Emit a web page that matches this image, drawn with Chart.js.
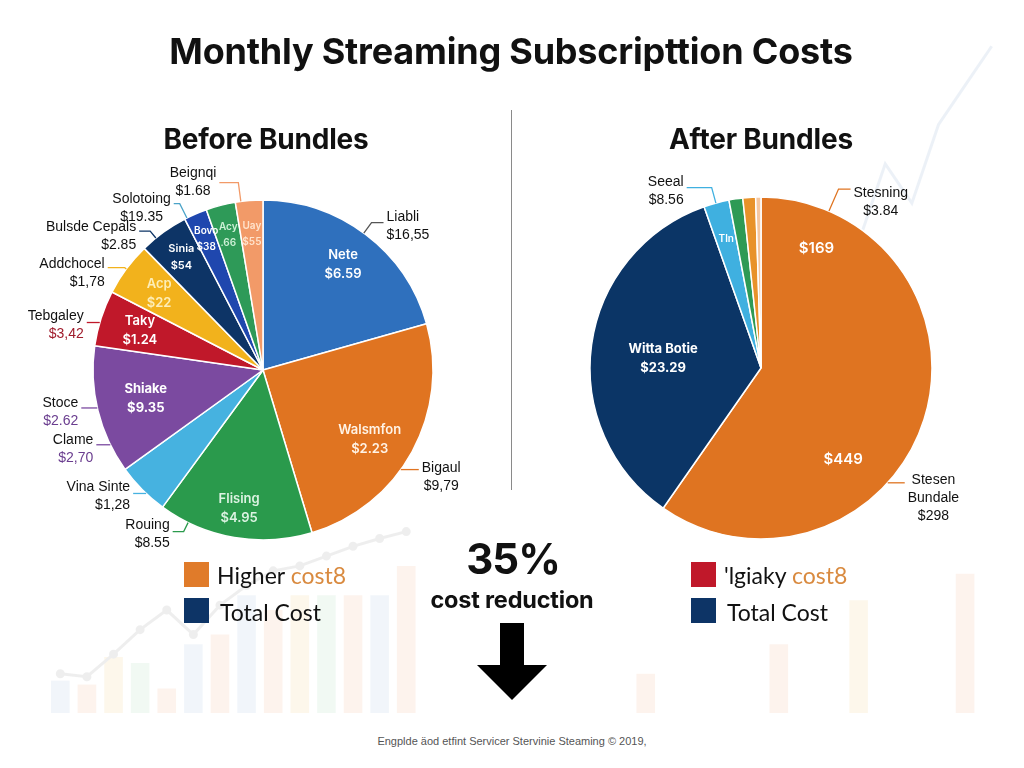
<!DOCTYPE html>
<html>
<head>
<meta charset="utf-8">
<script src="https://cdn.jsdelivr.net/npm/chart.js@4.4.1/dist/chart.umd.min.js"></script>
<style>
  html, body { margin: 0; padding: 0; background: #fff; }
  #page { position: relative; width: 1024px; height: 768px; overflow: hidden; font-family: Inter, sans-serif; color: #111; }
  .box { position: absolute; }
  .c { position: absolute; transform: translate(-50%, -50%); white-space: nowrap; }
  .l { position: absolute; transform: translateY(-50%); white-space: nowrap; }
  .sq { position: absolute; width: 25px; height: 25px; }
  .legend { font-family: Lato, sans-serif; font-size: 23px; }
</style>
</head>
<body>
<div id="page">
  <div class="box" id="bgWrap" style="left:40px; top:0; width:972px; height:720px; opacity:0.12;">
    <canvas id="bgChart"></canvas>
  </div>

  <div class="c" style="left:511px; top:51px; font-size:36px; font-weight:700; letter-spacing:-0.2px;">Monthly Streaming Subscripttion Costs</div>
  <div class="c" style="left:266px; top:139px; font-size:28px; font-weight:700; letter-spacing:-0.2px;">Before Bundles</div>
  <div class="c" style="left:761px; top:139px; font-size:28px; font-weight:700; letter-spacing:-0.2px;">After Bundles</div>
  <div class="box" style="left:511px; top:110px; width:1px; height:380px; background:#8a8a8a;"></div>

  <div class="box" style="left:13px; top:160px; width:500px; height:420px;"><canvas id="beforePie"></canvas></div>
  <div class="box" style="left:511px; top:158px; width:500px; height:420px;"><canvas id="afterPie"></canvas></div>

  <div class="c" style="left:513px; top:558px; font-size:42px; font-weight:700; letter-spacing:-1px;">35%</div>
  <div class="c" style="left:512px; top:599px; font-size:23.5px; font-weight:700; letter-spacing:-0.2px;">cost reduction</div>
  <div class="box" style="left:500px; top:623px; width:24px; height:43px; background:#000;"></div>
  <div class="box" style="left:477px; top:665px; width:0; height:0; border-left:35px solid transparent; border-right:35px solid transparent; border-top:35px solid #000;"></div>

  <div class="sq" style="left:184px; top:562px; background:#e07b2a;"></div>
  <div class="l legend" style="left:217px; top:575px;">Higher <span style="color:#d98a3f;">cost8</span></div>
  <div class="sq" style="left:184px; top:598px; background:#0d3466;"></div>
  <div class="l legend" style="left:220px; top:612px;">Total Cost</div>

  <div class="sq" style="left:691px; top:562px; background:#c0182a;"></div>
  <div class="l legend" style="left:724px; top:575px;">'lgiaky <span style="color:#d98a3f;">cost8</span></div>
  <div class="sq" style="left:691px; top:598px; background:#0d3466;"></div>
  <div class="l legend" style="left:727px; top:612px;">Total Cost</div>

  <div class="c" style="left:512px; top:741px; font-family:'Liberation Sans Narrow', sans-serif; font-size:11px; color:#555;">Engplde äod etfint Servicer Stervinie Steaming © 2019,</div>
</div>

<script>
// before bundles: slice shares (%), clockwise from 12 o'clock
const beforeLabels = ['Nete', 'Walsmfon', 'Flising', 'Vina Sinte', 'Shiake', 'Taky', 'Acp', 'Sinia', 'Bovo', 'Acy', 'Uay'];
const beforeShare = [20.6, 24.7, 14.7, 5.0, 12.2, 5.3, 5.1, 4.7, 2.2, 2.8, 2.6];
const beforeColors = ['#2f70bd', '#e07421', '#2a9a4c', '#46b2e0', '#7b4aa0', '#c0182a', '#f2b21c', '#0d3466', '#1f47ae', '#2e9a58', '#f29a68'];

// after bundles
const afterLabels = ['Stesen Bundale', 'Witta Botie', 'Tln', 'Seeal', 'Stesning', 'Other'];
const afterShare = [59.7, 34.9, 2.4, 1.3, 1.2, 0.5];
const afterColors = ['#df7421', '#0b3566', '#3fb0e0', '#2e9a55', '#e8922a', '#f5c7a0'];

// faint background bars / lines
const bgLabels = ['1','2','3','4','5','6','7','8','9','10','11','12','13','14','15','16','17','18',
                  '19','20','21','22','23','24','25','26','27','28','29','30','31','32','33','34','35','36'];
const bgBars = [33, 29, 57, 51, 25, 70, 80, 120, 105, 120, 120, 120, 120, 150,
                null, null, null, null, null, null, null, null, 40, null, null, null, null, 70,
                null, null, 115, null, null, null, 142, null];
const bgLine = [40, 37, 60, 85, 105, 80, 110, 130, 145, 150, 160, 170, 178, 185,
                null, null, null, null, null, null, null, null, null, null, null, null, null, null,
                null, null, null, null, null, null, null, null];
const bgLine2 = [null, null, null, null, null, null, null, null, null, null, null, null, null, null,
                 null, null, null, null, null, null, null, null, null, null, null, null, null, null,
                 420, null, 480, 560, 520, 600, 640, 680];
const bgBarColors = ['#8fb3d9', '#f0a070', '#f0c060', '#8fcfa0', '#f0a070', '#8fb3d9', '#f0a070'];

// text written on the slices
const beforeInner = [
  { slice: 0, at: 0.5, rf: 0.78, lines: ['Nete', '$6.59'] },
  { slice: 1, at: 0.55, rf: 0.75, lines: ['Walsmfon', '$2.23'], color: '#fff3e6' },
  { slice: 2, at: 0.5, rf: 0.83, lines: ['Flising', '$4.95'], color: '#dcf3e2' },
  { slice: 4, at: 0.5, rf: 0.71, lines: ['Shiake', '$9.35'], weight: 700 },
  { slice: 5, at: 0.5, rf: 0.76, lines: ['Taky', '$1.24'] },
  { slice: 6, at: 0.5, rf: 0.76, lines: ['Acp', '$22'], color: '#fdeeb8' },
  { slice: 7, at: 0.5, rf: 0.82, lines: ['Sinia', '$54'], size: 11 },
  { slice: 8, at: 0.5, rf: 0.84, lines: ['Bovo', '$38'], size: 10 },
  { slice: 9, at: 0.5, rf: 0.82, lines: ['Acy', '.66'], size: 10, color: '#cdf0d6' },
  { slice: 10, at: 0.5, rf: 0.8, lines: ['Uay', '$55'], size: 10, color: '#ffe3cc' }
];
const beforeCallouts = [
  { slice: 10, at: 0.2, ext: 19, run: 19, dy: -9, lines: ['Beignqi', '$1.68'], align: 'center' },
  { slice: 8, at: 0.1, ext: 16, run: 6, dy: -5, lines: ['Solotoing', '$19.35'], align: 'center', line: '#4aa3c8' },
  { slice: 7, at: 0.31, ext: 9, run: 11, dy: -4, lines: ['Bulsde Cepals', '$2.85'] },
  { slice: 6, at: 0.5, ext: 2, run: 17, dy: -4, lines: ['Addchocel', '$1,78'] },
  { slice: 5, at: 0.42, ext: 0, run: 13, dy: -6, lines: ['Tebgaley', '$3,42'], valueColor: '#a01c2c' },
  { slice: 4, at: 0.52, ext: 0, run: 16, dy: -5, lines: ['Stoce', '$2.62'], valueColor: '#6a3d8f' },
  { slice: 4, at: 0.22, ext: 0, run: 14, dy: -5, lines: ['Clame', '$2,70'], valueColor: '#6a3d8f' },
  { slice: 3, at: 0.4, ext: 0, run: 13, dy: -6, lines: ['Vina Sinte', '$1,28'] },
  { slice: 2, at: 0.81, ext: 10, run: 11, dy: -6, lines: ['Rouing', '$8.55'] },
  { slice: 1, at: 0.58, ext: 0, run: 18, dy: -1, lines: ['Bigaul', '$9,79'], align: 'center' },
  { slice: 0, at: 0.49, ext: 13, run: 12, dy: -6, lines: ['Liabli', '$16,55'], line: '#555' }
];

const afterInner = [
  { slice: 0, at: 0.116, rf: 0.77, lines: ['$169'], size: 15 },
  { slice: 0, at: 0.643, rf: 0.72, lines: ['$449'], size: 15 },
  { slice: 1, at: 0.48, rf: 0.575, lines: ['Witta Botie', '$23.29'], weight: 700 },
  { slice: 2, at: 0.5, rf: 0.78, lines: ['Tln'], size: 10 }
];
const afterCallouts = [
  { slice: 2, at: 0.48, ext: 16, run: 25, dy: -5, lines: ['Seeal', '$8.56'] },
  { slice: 0, at: 0.109, ext: 24, run: 12, dy: 4, lines: ['Stesning', '$3.84'], align: 'center' },
  { slice: 0, at: 0.615, ext: 0, run: 17, dy: -3, lines: ['Stesen', 'Bundale', '$298'], align: 'center' }
];

function pieText(inner, callouts) {
  return {
    id: 'pieText',
    afterDatasetsDraw(chart) {
      const ctx = chart.ctx;
      const arcs = chart.getDatasetMeta(0).data;
      const colors = chart.data.datasets[0].backgroundColor;
      ctx.save();
      ctx.textBaseline = 'middle';

      inner.forEach((l) => {
        const a = arcs[l.slice];
        const ang = a.startAngle + (a.endAngle - a.startAngle) * l.at;
        const r = a.outerRadius * l.rf;
        const x = a.x + Math.cos(ang) * r;
        const y = a.y + Math.sin(ang) * r;
        const size = l.size || 13;
        ctx.font = (l.weight || 600) + ' ' + size + 'px Inter';
        ctx.fillStyle = l.color || '#fff';
        ctx.textAlign = 'center';
        const lh = size + 6;
        const y0 = y - (l.lines.length - 1) * lh / 2;
        l.lines.forEach((t, i) => ctx.fillText(t, x, y0 + i * lh));
      });

      callouts.forEach((c) => {
        const a = arcs[c.slice];
        const ang = a.startAngle + (a.endAngle - a.startAngle) * c.at;
        const R = a.outerRadius;
        const ax = a.x + Math.cos(ang) * R, ay = a.y + Math.sin(ang) * R;
        const ex = a.x + Math.cos(ang) * (R + c.ext), ey = a.y + Math.sin(ang) * (R + c.ext);
        const side = Math.cos(ang) >= 0 ? 1 : -1;
        const hx = ex + side * c.run;

        ctx.strokeStyle = c.line || colors[c.slice];
        ctx.lineWidth = 1.3;
        ctx.beginPath();
        ctx.moveTo(ax, ay);
        ctx.lineTo(ex, ey);
        ctx.lineTo(hx, ey);
        ctx.stroke();

        ctx.font = '14px "Liberation Sans"';
        const widths = c.lines.map((t) => ctx.measureText(t).width);
        const w = Math.max(...widths);
        const bx = side > 0 ? hx + 3 : hx - 3 - w;
        c.lines.forEach((t, i) => {
          let x;
          if (c.align === 'center') x = bx + (w - widths[i]) / 2;
          else x = side > 0 ? bx : bx + w - widths[i];
          const last = i === c.lines.length - 1;
          ctx.fillStyle = last && c.valueColor ? c.valueColor : '#111';
          ctx.textAlign = 'left';
          ctx.fillText(t, x, ey + c.dy + i * 18);
        });
      });
      ctx.restore();
    }
  };
}

function makePie(id, labels, values, colors, inner, callouts, radius) {
  return new Chart(document.getElementById(id), {
    type: 'pie',
    data: {
      labels: labels,
      datasets: [{
        data: values,
        backgroundColor: colors,
        borderColor: '#fff',
        borderWidth: 1.5,
        hoverOffset: 0
      }]
    },
    options: {
      responsive: true,
      maintainAspectRatio: false,
      animation: false,
      events: [],
      radius: radius,
      layout: { padding: 0 },
      plugins: { legend: { display: false }, tooltip: { enabled: false } }
    },
    plugins: [pieText(inner, callouts)]
  });
}

makePie('beforePie', beforeLabels, beforeShare, beforeColors, beforeInner, beforeCallouts, 170);
makePie('afterPie', afterLabels, afterShare, afterColors, afterInner, afterCallouts, 171);

new Chart(document.getElementById('bgChart'), {
  type: 'bar',
  data: {
    labels: bgLabels,
    datasets: [
      { type: 'line', data: bgLine, borderColor: '#777', borderWidth: 3, pointRadius: 3, pointBackgroundColor: '#777', spanGaps: false },
      { type: 'line', data: bgLine2, borderColor: '#6a8fc0', borderWidth: 3, pointRadius: 0, spanGaps: true },
      { data: bgBars, backgroundColor: bgBarColors, barPercentage: 0.7, categoryPercentage: 1 }
    ]
  },
  options: {
    responsive: true,
    maintainAspectRatio: false,
    animation: false,
    events: [],
    layout: { padding: 0 },
    plugins: { legend: { display: false }, tooltip: { enabled: false } },
    scales: {
      x: { display: false },
      y: { display: false, min: 0, max: 720 }
    }
  }
});
</script>
</body>
</html>
